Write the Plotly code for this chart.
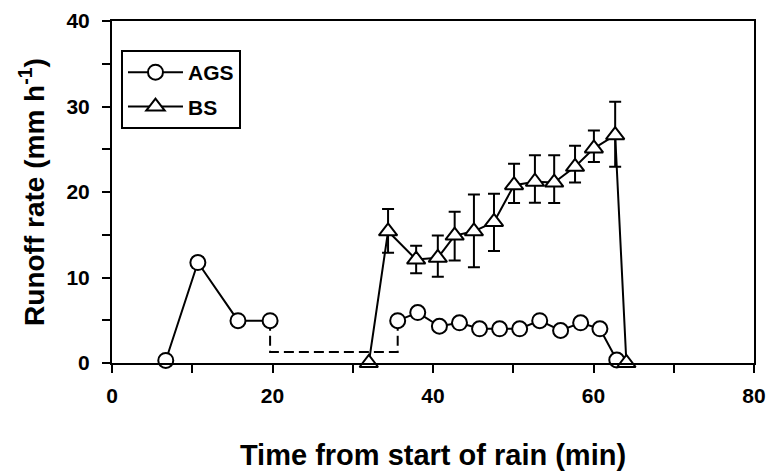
import plotly.graph_objects as go

# ---- data ----
ags_x = [6.7, 10.7, 15.7, 19.7, None, 35.6, 38.1, 40.8, 43.3, 45.8, 48.3, 50.8, 53.3, 55.9, 58.4, 60.8, 62.9]
ags_y = [0.3, 11.75, 4.95, 4.95, None, 4.95, 5.9, 4.3, 4.7, 4.0, 4.0, 4.0, 4.95, 3.8, 4.7, 4.0, 0.35]
ags_err = [0.1, 0.6, 0.2, 0.2, None, 0.2, 0.3, 0.2, 0.2, 0.2, 0.2, 0.2, 0.2, 0.2, 0.2, 0.2, 0.1]

gap_x = [19.7, 19.7, 35.6, 35.6]
gap_y = [4.95, 1.3, 1.3, 4.95]

bs_x = [32.0, 34.4, 37.9, 40.6, 42.7, 45.1, 47.6, 50.1, 52.7, 55.1, 57.7, 60.05, 62.7, 64.1]
bs_y = [0.0, 15.4, 12.1, 12.3, 14.9, 15.4, 16.5, 20.8, 21.2, 21.1, 22.95, 25.1, 26.65, 0.0]
bs_err_plus = [0, 2.6, 1.6, 2.6, 2.8, 4.3, 3.3, 2.5, 3.1, 3.2, 2.45, 2.1, 3.9, 0]
bs_err_minus = [0, 2.5, 1.6, 2.2, 2.9, 4.2, 3.4, 2.1, 2.45, 2.4, 1.85, 1.6, 3.7, 0]

x_ticks = [0, 10, 20, 30, 40, 50, 60, 70, 80]
x_ticktext = ["0", "", "20", "", "40", "", "60", "", "80"]
y_ticks = [0, 5, 10, 15, 20, 25, 30, 35, 40]
y_ticktext = ["0", "", "10", "", "20", "", "30", "", "40"]

FONT = "Liberation Sans, Arial, sans-serif"

fig = go.Figure()

fig.add_trace(go.Scatter(
    x=gap_x, y=gap_y, mode="lines",
    line=dict(color="black", width=2, dash="10px,5px"),
    showlegend=False, hoverinfo="skip"))

fig.add_trace(go.Scatter(
    x=ags_x, y=ags_y, mode="lines+markers", name="AGS", legendgroup="ags",
    connectgaps=False,
    line=dict(color="black", width=2),
    marker=dict(symbol="circle", size=15, color="white",
                line=dict(color="black", width=2)),
    error_y=dict(type="data", array=ags_err, color="black",
                 thickness=2, width=6),
    cliponaxis=False))

fig.add_trace(go.Scatter(
    x=bs_x, y=bs_y, mode="lines+markers", name="BS", legendgroup="bs",
    line=dict(color="black", width=2),
    marker=dict(symbol="triangle-up", size=16, color="white",
                line=dict(color="black", width=2)),
    error_y=dict(type="data", array=bs_err_plus, arrayminus=bs_err_minus,
                 color="black", thickness=2, width=6, symmetric=False),
    cliponaxis=False))

fig.update_layout(
    width=771, height=472,
    margin=dict(l=112, r=17, t=21, b=109),
    paper_bgcolor="white", plot_bgcolor="white",
    font=dict(family=FONT, color="black"),
    legend=dict(
        x=0.014, y=0.915, xanchor="left", yanchor="top",
        bordercolor="black", borderwidth=2, bgcolor="white",
        font=dict(family=FONT, size=21, color="black", weight="bold"),
        traceorder="grouped", tracegroupgap=4, itemwidth=55),
    xaxis=dict(
        range=[0, 80], tickvals=x_ticks, ticktext=x_ticktext,
        ticks="outside", ticklen=8, tickwidth=2, tickcolor="black",
        ticklabelstandoff=5, automargin=False,
        showline=True, linecolor="black", linewidth=2, mirror=True,
        showgrid=False, zeroline=False,
        tickfont=dict(family=FONT, size=21, color="black", weight="bold"),
        title=dict(text="Time from start of rain (min)", standoff=38,
                   font=dict(family=FONT, size=29, color="black", weight="bold"))),
    yaxis=dict(
        range=[0, 40], tickvals=y_ticks, ticktext=y_ticktext,
        ticks="outside", ticklen=8, tickwidth=2, tickcolor="black",
        ticklabelstandoff=8, automargin=False,
        showline=True, linecolor="black", linewidth=2, mirror=True,
        showgrid=False, zeroline=False,
        tickfont=dict(family=FONT, size=21, color="black", weight="bold"),
        title=dict(text="Runoff rate (mm h<sup>-1</sup>)", standoff=14,
                   font=dict(family=FONT, size=28, color="black", weight="bold"))),
)

fig.write_html("out.html", config={"displayModeBar": False},
               post_script="document.body.style.margin='0';")
